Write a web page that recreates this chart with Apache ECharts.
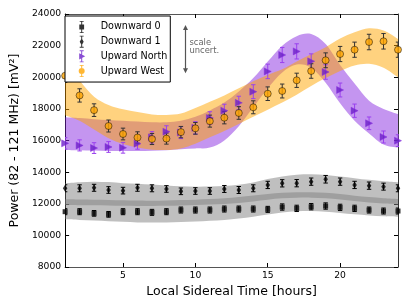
<!DOCTYPE html>
<html><head><meta charset="utf-8">
<script src="https://cdn.jsdelivr.net/npm/echarts@6/dist/echarts.min.js"></script>
<style>html,body{margin:0;padding:0;background:#fff}#c{width:407px;height:305px}</style>
</head><body><div id="c"></div>
<script>
// ---- data ----
const hours = [1,2,3,4,5,6,7,8,9,10,11,12,13,14,15,16,17,18,19,20,21,22,23,24];
const down0 = [11498,11498,11393,11330,11498,11498,11456,11498,11603,11603,11603,11666,11666,11666,11645,11792,11708,11813,11856,11771,11708,11603,11540,11540];
const down0Err = [190,190,180,180,190,190,190,190,190,190,190,190,190,190,190,200,200,200,200,200,200,190,190,190];
const down1 = [12977,12977,13010,12870,12830,13010,12977,12935,12787,12806,12806,12935,12870,12977,13190,13293,13300,13398,13550,13398,13190,13145,13082,12977];
const down1Err = [220,220,220,210,210,220,220,210,210,210,210,220,220,220,230,230,230,230,240,230,230,230,220,220];
const upNorth = [15820,15690,15520,15590,15540,15800,16200,16560,16500,16800,17420,17885,18380,19087,20370,21407,21636,21009,20332,19194,17885,17088,16222,15990];
const upNorthErr = [360,350,340,340,340,350,360,370,380,390,400,410,420,440,460,480,480,470,460,440,420,400,380,370];
const upWest = [20100,18850,17920,16917,16411,16190,16095,16120,16530,16770,17225,17443,17740,18100,18960,19130,19807,20395,21072,21470,21742,22229,22274,21742];
const upWestErr = [430,420,400,380,370,360,350,350,360,370,380,390,400,410,430,440,450,460,470,480,480,490,490,480];
// model bands (lower / upper edges)
const d0BandLo = [11018,10980,10940,10900,10860,10820,10807,10815,10840,10880,10930,10976,11060,11180,11320,11440,11520,11540,11500,11420,11330,11260,11210,11182];
const d0BandHi = [12282,12270,12255,12240,12220,12200,12197,12210,12230,12260,12300,12345,12420,12520,12620,12690,12720,12724,12690,12610,12510,12420,12350,12303];
const d1BandLo = [11921,11910,11900,11885,11870,11860,11858,11870,11890,11920,11950,11985,12050,12150,12260,12340,12380,12386,12350,12270,12170,12080,12010,11967];
const d1BandHi = [13293,13360,13398,13370,13300,13260,13210,13160,13110,13082,13090,13124,13200,13350,13560,13720,13830,13862,13820,13730,13620,13510,13420,13356];
const unBandLo = [15400,15380,15360,15340,15330,15330,15350,15380,15450,15500,15550,16000,16900,18100,19300,20300,20800,20600,19650,18350,17250,16450,15750,15550];
const unBandHi = [17470,17420,17350,17300,17250,17200,17150,17150,17250,17500,17900,18400,19100,19950,21000,22000,22600,22730,22100,20780,19600,18520,18000,17680];
const uwBandLo = [17600,17250,16700,16150,15780,15550,15420,15400,15500,15800,16200,16600,17050,17500,17950,18400,18900,19450,19950,20400,20750,20850,20600,20000];
const uwBandHi = [20980,19800,18770,18250,17980,17800,17650,17610,17700,18050,18450,18850,19300,19750,20150,20500,21000,21450,21900,22450,22850,23100,22950,22420];
const xTicks = [5,10,15,20];
const scaleArrow = {x: 9.3, lo: 20250, hi: 23300};

const FONT = 'DejaVu Sans';
const pairs = (vals) => hours.map((h,i)=>[h, vals[i]]);

// Catmull-Rom through points -> cubic bezier path commands
function curveCmds(pts) {
  let d = '';
  for (let i = 0; i < pts.length - 1; i++) {
    const p0 = pts[Math.max(i-1,0)], p1 = pts[i], p2 = pts[i+1], p3 = pts[Math.min(i+2, pts.length-1)];
    const c1 = [p1[0] + (p2[0]-p0[0])/6, p1[1] + (p2[1]-p0[1])/6];
    const c2 = [p2[0] - (p3[0]-p1[0])/6, p2[1] - (p3[1]-p1[1])/6];
    d += 'C' + c1[0].toFixed(2) + ',' + c1[1].toFixed(2) + ',' + c2[0].toFixed(2) + ',' + c2[1].toFixed(2) + ',' + p2[0].toFixed(2) + ',' + p2[1].toFixed(2);
  }
  return d;
}
function band(id, lo, hi, color) {
  return {type:'custom', name:id+'_band', silent:true, z:1, clip:true,
    data:[[hours[0], lo[0]]], encode:{x:0, y:1},
    renderItem(params, api) {
      const top = hours.map((h,i)=>api.coord([h, hi[i]]));
      const bot = hours.map((h,i)=>api.coord([h, lo[i]])).reverse();
      const d = 'M' + top[0][0].toFixed(2) + ',' + top[0][1].toFixed(2) + curveCmds(top) +
                'L' + bot[0][0].toFixed(2) + ',' + bot[0][1].toFixed(2) + curveCmds(bot) + 'Z';
      return {type:'path', shape:{pathData:d}, style:{fill:color}};
    }};
}
function errBars(id, vals, errs, color) {
  return {type:'custom', name:id+'_err', silent:true, z:3, clip:true,
    data: hours.map((h,i)=>[h, vals[i], errs[i]]),
    encode:{x:0, y:1},
    renderItem(params, api) {
      const x = api.value(0), y = api.value(1), e = api.value(2);
      const a = api.coord([x, y+e]), b = api.coord([x, y-e]);
      const cw = 2.2, st = {stroke:color, lineWidth:1};
      return {type:'group', children:[
        {type:'line', shape:{x1:a[0], y1:a[1], x2:b[0], y2:b[1]}, style:st},
        {type:'line', shape:{x1:a[0]-cw, y1:a[1], x2:a[0]+cw, y2:a[1]}, style:st},
        {type:'line', shape:{x1:b[0]-cw, y1:b[1], x2:b[0]+cw, y2:b[1]}, style:st}
      ]};
    }};
}

const pad = 'M0,6h0.01v0.01h-0.01Z M8,6h0.01v0.01h-0.01Z ';
const bar = 'M3.5,0H4.5V12H3.5Z M2,0H6V0.8H2Z M2,11.2H6V12H2Z ';
const icons = {
  'Downward 0': 'path://' + pad + bar + 'M1.6,3.6H6.4V8.4H1.6Z',
  'Downward 1': 'path://' + pad + bar + 'M4,2.5L6,6L4,9.5L2,6Z',
  'Upward North': 'path://' + pad + bar + 'M1.5,2.8L7.5,6L1.5,9.2Z',
  'Upward West': 'path://' + pad + bar + 'M7,6A3,3,0,1,1,1,6A3,3,0,1,1,7,6Z'
};

const axisCommon = {
  type:'value', splitLine:{show:false},
  axisTick:{inside:true, length:4, lineStyle:{color:'#000'}}
};

const option = {
  animation:false,
  textStyle:{fontFamily:FONT},
  grid:{left:62, right:9, top:14, bottom:38, containLabel:false},
  xAxis:[
    Object.assign({}, axisCommon, {min:1, max:24, position:'bottom',
      axisLine:{lineStyle:{color:'#555', width:1}},
      axisTick:{inside:true, length:4, customValues:xTicks, lineStyle:{color:'#000'}},
      axisLabel:{customValues:xTicks, color:'#000', fontSize:9.2, fontFamily:FONT, margin:4},
      name:'Local Sidereal Time [hours]', nameLocation:'middle', nameGap:14,
      nameTextStyle:{fontSize:12.5, fontFamily:FONT, color:'#000'}}),
    Object.assign({}, axisCommon, {min:1, max:24, position:'top',
      axisLine:{lineStyle:{color:'#555', width:1}},
      axisTick:{inside:true, length:4, customValues:xTicks, lineStyle:{color:'#000'}},
      axisLabel:{show:false}})
  ],
  yAxis:[
    Object.assign({}, axisCommon, {min:8000, max:24000, interval:2000, position:'left',
      axisLine:{show:true, lineStyle:{color:'#000', width:1}},
      axisLabel:{color:'#000', fontSize:9.2, fontFamily:FONT, margin:4, formatter: v => String(v)},
      name:'Power (82 - 121 MHz) [mV²]', nameLocation:'middle', nameGap:38,
      nameTextStyle:{fontSize:12.5, fontFamily:FONT, color:'#000'}}),
    Object.assign({}, axisCommon, {min:8000, max:24000, interval:2000, position:'right',
      axisLine:{show:true, lineStyle:{color:'#333', width:1}},
      axisLabel:{show:false}})
  ],
  legend:{
    orient:'vertical', left:65, top:16, padding:[5,3,5,12.7],
    itemWidth:8, itemHeight:12, itemGap:2.7,
    symbolRotate:0,
    itemStyle:{borderWidth:0},
    backgroundColor:'#fff', borderColor:'#000', borderWidth:1, borderRadius:0,
    data:['Downward 0','Downward 1','Upward North','Upward West'].map(n=>({name:n, icon:icons[n]})),
    formatter: n => '{t|' + n + '}',
    textStyle:{color:'#000', fontSize:9.6, fontFamily:FONT,
      rich:{t:{padding:[0,0,0,10], fontSize:9.6, fontFamily:FONT, color:'#000'}}},
    z:10
  },
  series:[
    band('d0', d0BandLo, d0BandHi, 'rgba(128,128,128,0.5)'),
    band('d1', d1BandLo, d1BandHi, 'rgba(128,128,128,0.5)'),
    band('un', unBandLo, unBandHi, 'rgba(138,43,226,0.5)'),
    band('uw', uwBandLo, uwBandHi, 'rgba(255,165,0,0.5)'),
    errBars('d0', down0, down0Err, '#000'),
    errBars('d1', down1, down1Err, '#000'),
    errBars('un', upNorth, upNorthErr, '#9A40EE'),
    errBars('uw', upWest, upWestErr, '#333'),
    {type:'scatter', name:'Downward 0', data:pairs(down0), symbol:'rect', symbolSize:5,
     itemStyle:{color:'#000'}, z:4},
    {type:'scatter', name:'Downward 1', data:pairs(down1), symbol:'diamond', symbolSize:[4.5,7],
     itemStyle:{color:'#000'}, z:4},
    {type:'scatter', name:'Upward North', data:pairs(upNorth), symbol:'triangle', symbolRotate:-90, symbolSize:7,
     itemStyle:{color:'#6A1FC8', borderColor:'#8A2BE2', borderWidth:0.6}, z:4},
    {type:'scatter', name:'Upward West', data:pairs(upWest), symbol:'circle', symbolSize:7,
     itemStyle:{color:'#FFA500', borderColor:'#000', borderWidth:0.6}, z:4}
  ]
};

const chart = echarts.init(document.getElementById('c'), null, {renderer:'canvas'});
chart.setOption(option);

const pTop = chart.convertToPixel({gridIndex:0}, [scaleArrow.x, scaleArrow.hi]);
const pBot = chart.convertToPixel({gridIndex:0}, [scaleArrow.x, scaleArrow.lo]);
const ax = Math.round(pTop[0]) + 0.5;
const ac = '#555';
chart.setOption({graphic:[
  {type:'line', shape:{x1:ax, y1:pTop[1]+3, x2:ax, y2:pBot[1]-3}, style:{stroke:ac, lineWidth:1.2}, z:20},
  {type:'polygon', shape:{points:[[ax, pTop[1]], [ax-2.5, pTop[1]+5], [ax+2.5, pTop[1]+5]]}, style:{fill:ac}, z:20},
  {type:'polygon', shape:{points:[[ax, pBot[1]], [ax-2.5, pBot[1]-5], [ax+2.5, pBot[1]-5]]}, style:{fill:ac}, z:20},
  {type:'text', x:ax+4, y:(pTop[1]+pBot[1])/2 - 11, style:{text:'scale\nuncert.', fill:'#666', fontSize:8.4, fontFamily:FONT, lineHeight:8.5}, z:20}
]});
</script>
</body></html>
